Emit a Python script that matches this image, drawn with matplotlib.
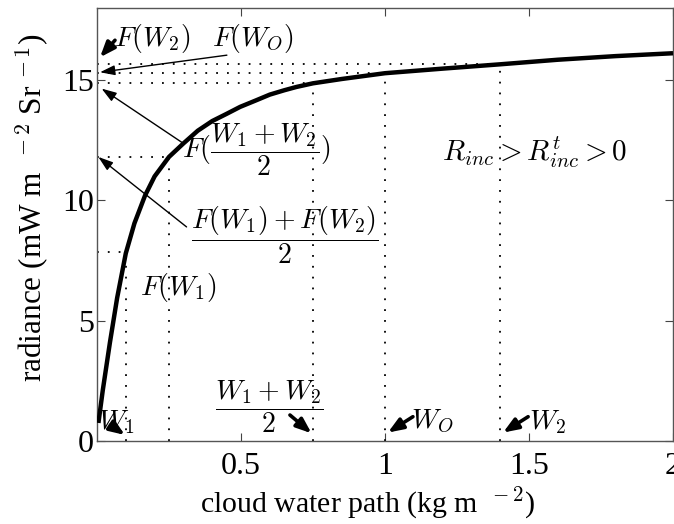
import matplotlib
matplotlib.use("Agg")
import matplotlib.pyplot as plt

# ---- data ----
cwp = [0.005, 0.02, 0.045, 0.07, 0.1, 0.13, 0.1667, 0.2, 0.25, 0.30, 0.35,
       0.40, 0.45, 0.497, 0.55, 0.6, 0.65, 0.693, 0.75, 0.85, 1.0, 1.2, 1.4,
       1.6, 1.8, 2.0]
radiance = [0.75, 2.1, 4.1, 5.95, 7.8, 9.05, 10.2, 11.0, 11.81, 12.37, 12.9,
            13.3, 13.6, 13.89, 14.15, 14.4, 14.58, 14.72, 14.87, 15.05, 15.29,
            15.48, 15.66, 15.85, 16.0, 16.12]

# marked water paths (W1, ..., (W1+W2)/2, WO, W2) and their radiances
W_marks = [0.1, 0.25, 0.75, 1.0, 1.4]
F_marks = [7.85, 11.81, 14.87, 15.29, 15.66]

xticks = [0.5, 1, 1.5, 2]
yticks = [0, 5, 10, 15]

plt.rcParams['mathtext.fontset'] = 'cm'
plt.rcParams['font.family'] = ['Liberation Serif', 'DejaVu Serif']

fig = plt.figure(figsize=(6.74, 5.24), dpi=100)
ax = fig.add_axes([0.1439, 0.1584, 0.8546, 0.8263])

ax.plot(cwp, radiance, color='black', lw=3.2, solid_capstyle='butt',
        solid_joinstyle='round', zorder=3)

dot = dict(color='black', lw=1.3, linestyle=(0, (1, 5)), zorder=2)
for w, f in zip(W_marks, F_marks):
    ax.plot([w, w], [0, f], **dot)
    ax.plot([0, w], [f, f], **dot)

ax.set_xlim(0, 2)
ax.set_ylim(0, 18)
ax.set_xticks(xticks)
ax.set_xticklabels(['0.5', '1', '1.5', '2'])
ax.set_yticks(yticks)
ax.tick_params(direction='in', length=6, width=0.8, color='#444444',
               top=True, right=True, labelsize=23)
ax.tick_params(axis='x', pad=8)
ax.tick_params(axis='y', pad=2)
for s in ax.spines.values():
    s.set_color('#555555')
    s.set_linewidth(1.0)

ax.set_xlabel(r'cloud water path (kg m $^{\,-2}$)', fontsize=21.5)
ax.xaxis.set_label_coords(0.47, -0.1)
ax.set_ylabel(r'radiance (mW m $^{\,-2}$ Sr$^{\,-1}$)', fontsize=22.5)
ax.yaxis.set_label_coords(-0.08, 0.54)

fs = 20
thick = dict(arrowstyle='-|>,head_length=0.9,head_width=0.35', color='black', lw=2.6,
             shrinkA=0, shrinkB=0)
thin = dict(arrowstyle='-|>,head_length=0.9,head_width=0.3', color='black', lw=1.0,
            shrinkA=0, shrinkB=0)

# top-left labels
ax.text(0.06, 16.74, r'$F(W_2)$', fontsize=fs, ha='left', va='center')
ax.annotate('', xy=(0.0104, 15.95), xytext=(0.0625, 16.66), arrowprops=thick)
ax.text(0.40, 16.74, r'$F(W_O)$', fontsize=fs, ha='left', va='center')
ax.annotate('', xy=(0.0104, 15.33), xytext=(0.451, 16.04), arrowprops=thin)

ax.text(0.295, 12.09, r'$F(\dfrac{W_1+W_2}{2})$', fontsize=fs, ha='left', va='center')
ax.annotate('', xy=(0.016, 14.65), xytext=(0.299, 12.38), arrowprops=thin)

ax.text(0.652, 8.56, r'$\dfrac{F(W_1)+F(W_2)}{2}$', fontsize=fs, ha='center', va='center')
ax.annotate('', xy=(0.0045, 11.81), xytext=(0.311, 8.9), arrowprops=thin)

ax.text(0.15, 6.4, r'$F(W_1)$', fontsize=fs, ha='left', va='center')

# bottom labels
ax.text(0.002, 0.79, r'$W_1$', fontsize=fs, ha='left', va='center')
ax.annotate('', xy=(0.097, 0.25), xytext=(0.047, 0.66), arrowprops=thick)

ax.text(0.597, 1.41, r'$\dfrac{W_1+W_2}{2}$', fontsize=fs, ha='center', va='center')
ax.annotate('', xy=(0.745, 0.32), xytext=(0.67, 1.08), arrowprops=thick)

ax.text(1.09, 0.8, r'$W_O$', fontsize=fs, ha='left', va='center')
ax.annotate('', xy=(1.01, 0.35), xytext=(1.097, 1.01), arrowprops=thick)

ax.text(1.5, 0.8, r'$W_2$', fontsize=fs, ha='left', va='center')
ax.annotate('', xy=(1.41, 0.35), xytext=(1.497, 1.01), arrowprops=thick)

ax.text(1.52, 12.0, r'$R_{inc} > R^t_{inc} > 0$', fontsize=21, ha='center', va='center')

fig.savefig('out.png', dpi=100)
